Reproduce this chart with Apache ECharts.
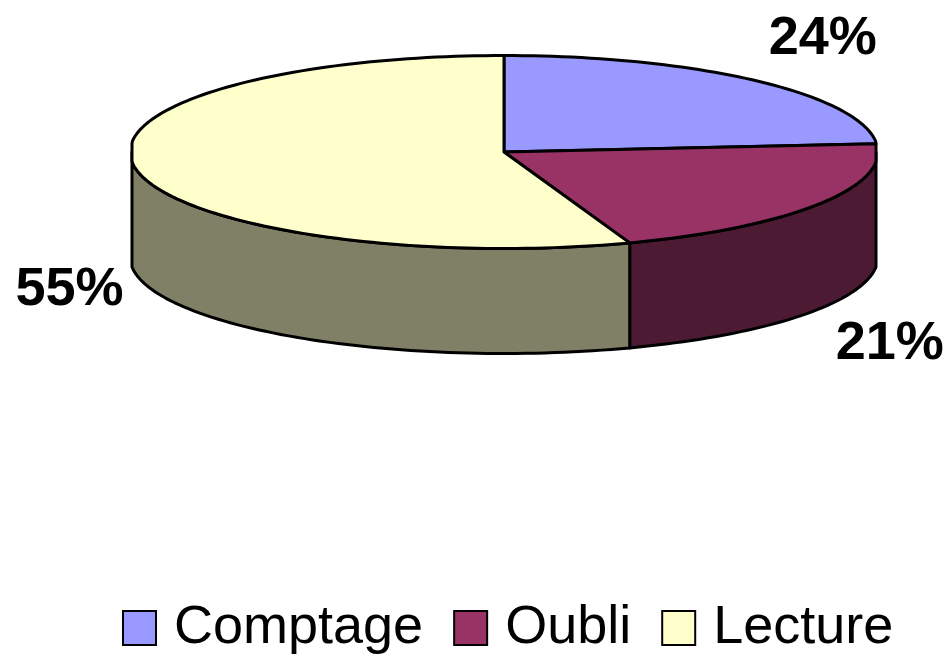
<!DOCTYPE html>
<html>
<head>
<meta charset="utf-8">
<title>Comptage Oubli Lecture</title>
<script src="https://cdn.jsdelivr.net/npm/echarts@6/dist/echarts.min.js"></script>
<style>
html, body { margin: 0; padding: 0; background: #ffffff; }
#main { width: 948px; height: 657px; }
</style>
</head>
<body>
<div id="main"></div>
<script>
// values, the labels show them rounded
var categories = ['Comptage', 'Oubli', 'Lecture'];
var shares = [23.6, 20.9, 55.4];
var shownLabels = ['24%', '21%', '55%'];

var topColors = ['#9999ff', '#993366', '#ffffcc'];
var wallColors = ['#4d4d80', '#4d1a33', '#808066'];

// flattened disc
var cx = 504, cy = 152, rx = 374, ry = 96.5, halfWidth = 372, depth = 105;
var labelOffsets = [[66, -42], [71, 35], [-66, 17]];

var total = shares.reduce(function (a, b) { return a + b; }, 0);

function rimPoint(deg, dy) {
    var a = deg * Math.PI / 180;
    var x = Math.sin(a) * rx;
    // the reference rim has short straight bits at both far ends
    x = Math.max(-halfWidth, Math.min(halfWidth, x));
    return [cx + x, cy - Math.cos(a) * ry + dy];
}

function arcPoints(from, to, dy) {
    var pts = [];
    var n = Math.max(2, Math.ceil((to - from) / 1.5));
    for (var i = 0; i <= n; i++) {
        pts.push(rimPoint(from + (to - from) * i / n, dy));
    }
    return pts;
}

function renderSlice(params, api) {
    var start = api.value(0) / total * 360;
    var end = api.value(1) / total * 360;
    var i = params.seriesIndex;
    var children = [];
    var stroke = { stroke: '#000000', lineWidth: 3, lineJoin: 'round' };

    // only the front half of the side can be seen
    var wallFrom = Math.max(start, 90), wallTo = Math.min(end, 270);
    if (wallTo > wallFrom) {
        var wall = arcPoints(wallFrom, wallTo, 0).concat(arcPoints(wallFrom, wallTo, depth).reverse());
        children.push({
            type: 'polygon',
            shape: { points: wall },
            style: Object.assign({ fill: wallColors[i] }, stroke)
        });
    }

    children.push({
        type: 'polygon',
        shape: { points: [[cx, cy]].concat(arcPoints(start, end, 0)) },
        style: Object.assign({ fill: topColors[i] }, stroke)
    });

    var m = (start + end) / 2;
    var mid = rimPoint(m, m > 90 && m < 270 ? depth : 0);
    children.push({
        type: 'text',
        z2: 10,
        style: {
            x: mid[0] + labelOffsets[i][0],
            y: mid[1] + labelOffsets[i][1],
            text: shownLabels[i],
            fill: '#000000',
            font: 'bold 54px "Liberation Sans", Arial, sans-serif',
            align: 'center',
            verticalAlign: 'middle'
        }
    });
    return { type: 'group', children: children };
}

var running = 0;
var series = categories.map(function (name, i) {
    var from = running;
    running += shares[i];
    return {
        type: 'custom',
        name: name,
        coordinateSystem: 'none',
        renderItem: renderSlice,
        animation: false,
        silent: true,
        itemStyle: { color: topColors[i], borderColor: '#000000', borderWidth: 2.5 },
        data: [[from, running]]
    };
});

var chart = echarts.init(document.getElementById('main'));
chart.setOption({
    backgroundColor: '#ffffff',
    animation: false,
    legend: {
        data: categories,
        left: 122,
        top: 601,
        padding: 0,
        icon: 'rect',
        itemWidth: 33,
        itemHeight: 34,
        itemGap: 30,
        selectedMode: false,
        textStyle: {
            fontFamily: '"Liberation Sans", Arial, sans-serif',
            fontSize: 54,
            color: '#000000',
            padding: [0, 0, 0, 13]
        }
    },
    series: series
});
</script>
</body>
</html>
